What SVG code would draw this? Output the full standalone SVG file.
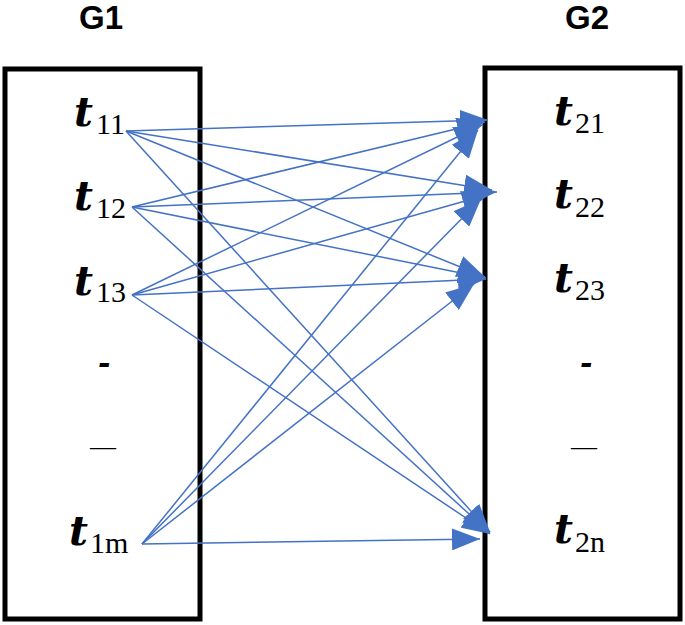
<svg xmlns="http://www.w3.org/2000/svg" width="685" height="625" viewBox="0 0 685 625">
<defs>
<style>
.box{fill:none;stroke:#000;stroke-width:5}
.hdr{font-family:"Liberation Sans",Arial,sans-serif;font-weight:bold;font-size:33px;fill:#000}
.t{font-family:"DejaVu Serif","Liberation Serif",serif;font-weight:bold;font-style:italic;font-size:41px;fill:#000}
.s{font-family:"Liberation Serif","DejaVu Serif",serif;font-size:30px;fill:#000}
.d1{font-family:"DejaVu Serif","Liberation Serif",serif;font-weight:bold;font-style:italic;font-size:30px;fill:#000}
.d2{font-family:"Liberation Serif","DejaVu Serif",serif;font-size:26px;fill:#000}
.c line{stroke:#4472C4;stroke-width:1.5;marker-end:url(#ah)}
</style>
<marker id="ah" markerUnits="userSpaceOnUse" markerWidth="28" markerHeight="22" refX="28" refY="11" orient="auto">
<path d="M0,0 L28,11 L0,22 z" fill="#4472C4"/>
</marker>
</defs>
<rect width="685" height="625" fill="#fff"/>
<g id="G1">
<rect class="box" x="5" y="69" width="195" height="550"/>
<text class="hdr" x="101" y="29" text-anchor="middle">G1</text>
</g>
<g id="G2">
<rect class="box" x="485" y="68" width="195" height="551"/>
<text class="hdr" x="587" y="29" text-anchor="middle">G2</text>
</g>
<g id="t11"><text x="74" y="126"><tspan class="t">t</tspan><tspan class="s" x="96" y="134">11</tspan></text></g>
<g id="t12"><text x="74" y="210"><tspan class="t">t</tspan><tspan class="s" x="96" y="218">12</tspan></text></g>
<g id="t13"><text x="74" y="295"><tspan class="t">t</tspan><tspan class="s" x="96" y="302">13</tspan></text></g>
<g id="dash1a"><text class="d1" x="98" y="373">-</text></g>
<g id="dash1b"><text class="d2" x="90" y="455">—</text></g>
<g id="t1m"><text x="69" y="545"><tspan class="t">t</tspan><tspan class="s" x="90" y="553">1m</tspan></text></g>
<g id="t21"><text x="554" y="125"><tspan class="t">t</tspan><tspan class="s" x="575" y="133">21</tspan></text></g>
<g id="t22"><text x="554" y="208"><tspan class="t">t</tspan><tspan class="s" x="575" y="217">22</tspan></text></g>
<g id="t23"><text x="554" y="292"><tspan class="t">t</tspan><tspan class="s" x="575" y="300">23</tspan></text></g>
<g id="dash2a"><text class="d1" x="580" y="373">-</text></g>
<g id="dash2b"><text class="d2" x="571" y="455">—</text></g>
<g id="t2n"><text x="554" y="543"><tspan class="t">t</tspan><tspan class="s" x="575" y="552">2n</tspan></text></g>
<g id="connectors" class="c">
<line x1="126" y1="131" x2="488" y2="120"/>
<line x1="126" y1="131" x2="492" y2="190"/>
<line x1="126" y1="131" x2="485" y2="277"/>
<line x1="126" y1="131" x2="490" y2="532"/>
<line x1="132" y1="207" x2="485" y2="122"/>
<line x1="132" y1="207" x2="497" y2="192"/>
<line x1="132" y1="207" x2="486" y2="278"/>
<line x1="132" y1="207" x2="490" y2="533"/>
<line x1="132" y1="295" x2="482" y2="125"/>
<line x1="132" y1="295" x2="490" y2="194"/>
<line x1="132" y1="295" x2="486" y2="279"/>
<line x1="132" y1="295" x2="490" y2="534"/>
<line x1="142" y1="544" x2="478" y2="130"/>
<line x1="142" y1="544" x2="481" y2="199"/>
<line x1="142" y1="544" x2="474" y2="284"/>
<line x1="142" y1="544" x2="480" y2="539"/>
</g>
</svg>
